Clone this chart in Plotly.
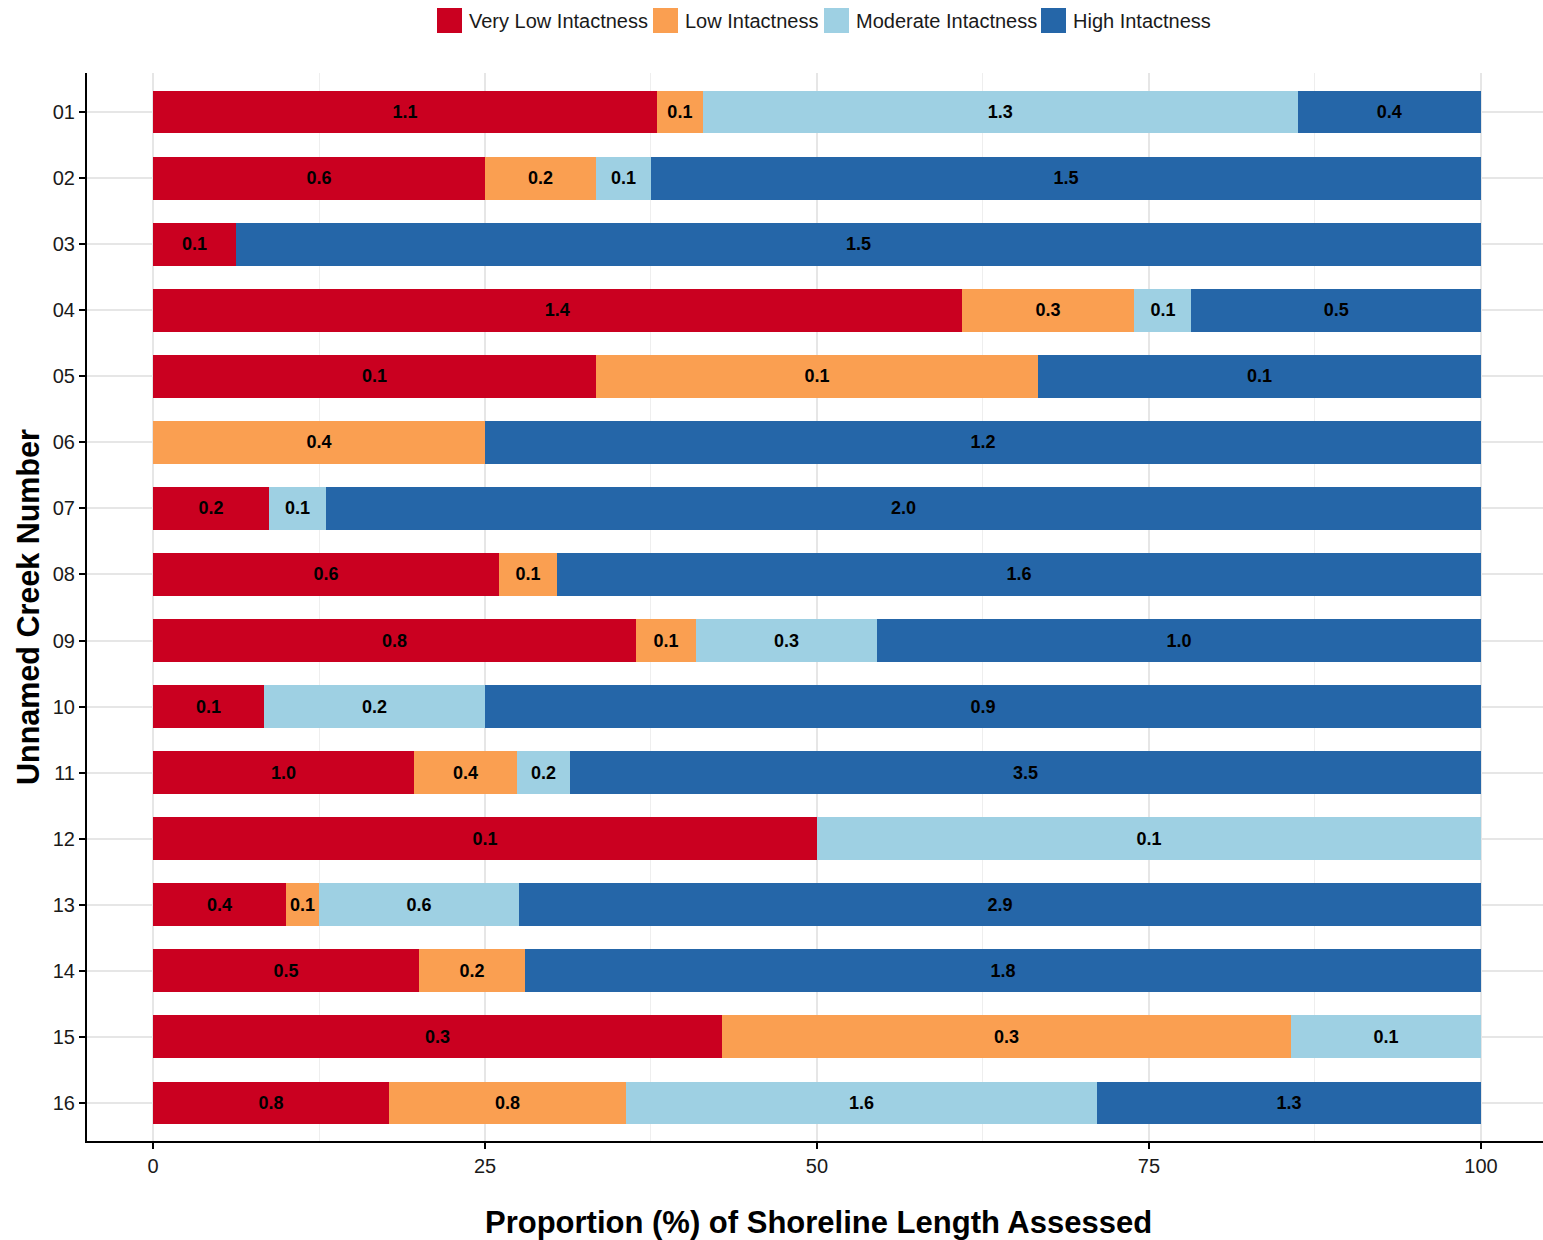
import plotly.graph_objects as go

# ---------------- data ----------------
creeks = ["01", "02", "03", "04", "05", "06", "07", "08",
          "09", "10", "11", "12", "13", "14", "15", "16"]

series_names = ["Very Low Intactness", "Low Intactness",
                "Moderate Intactness", "High Intactness"]

# proportion (%) of shoreline length for each class
very_low_pct = [37.95, 25.0, 6.25, 60.9, 33.36, None, 8.73, 26.05,
                36.37, 8.36, 19.65, 50.0, 10.02, 20.03, 42.85, 17.77]
low_pct = [3.45, 8.36, None, 13.0, 33.28, 25.0, None, 4.37,
           4.52, None, 7.76, None, 2.48, 7.98, 42.84, 17.85]
moderate_pct = [44.8, 4.14, None, 4.3, None, None, 4.3, None,
                13.63, 16.64, 3.99, 50.0, 15.06, None, 14.31, 35.46]
high_pct = [13.8, 62.5, 93.75, 21.8, 33.36, 75.0, 86.97, 69.58,
            45.48, 75.0, 68.6, None, 72.44, 71.99, None, 28.92]

# shoreline length (labels inside segments)
very_low_len = [1.1, 0.6, 0.1, 1.4, 0.1, None, 0.2, 0.6,
                0.8, 0.1, 1.0, 0.1, 0.4, 0.5, 0.3, 0.8]
low_len = [0.1, 0.2, None, 0.3, 0.1, 0.4, None, 0.1,
           0.1, None, 0.4, None, 0.1, 0.2, 0.3, 0.8]
moderate_len = [1.3, 0.1, None, 0.1, None, None, 0.1, None,
                0.3, 0.2, 0.2, 0.1, 0.6, None, 0.1, 1.6]
high_len = [0.4, 1.5, 1.5, 0.5, 0.1, 1.2, 2.0, 1.6,
            1.0, 0.9, 3.5, None, 2.9, 1.8, None, 1.3]

x_ticks = [0, 25, 50, 75, 100]

colors = ["#CA0020", "#FA9F51", "#9ED0E3", "#2566A8"]

# ---------------- figure ----------------
W, H = 1543, 1240
ML, MR, MT, MB = 87, 0, 73, 99
FONT = "Liberation Sans, Arial, sans-serif"

fig = go.Figure()
pcts = [very_low_pct, low_pct, moderate_pct, high_pct]
lens = [very_low_len, low_len, moderate_len, high_len]
for name, pct, ln, col in zip(series_names, pcts, lens, colors):
    txt = [("" if v is None else f"{v:.1f}") for v in ln]
    fig.add_trace(go.Bar(
        y=creeks, x=pct, name=name, orientation="h",
        marker=dict(color=col, line=dict(width=0)),
        width=0.65,
        text=txt, textposition="inside", insidetextanchor="middle",
        textangle=0,
        textfont=dict(family=FONT, size=18, color="black", weight="bold"),
        showlegend=False,
    ))

fig.update_layout(
    barmode="stack",
    width=W, height=H,
    margin=dict(l=ML, r=MR, t=MT, b=MB, pad=0),
    plot_bgcolor="white", paper_bgcolor="white",
    font=dict(family=FONT, size=20, color="#1a1a1a"),
    uniformtext=dict(minsize=18, mode="show"),
)

fig.update_xaxes(
    range=[-4.97, 104.67],
    tickmode="array", tickvals=x_ticks, ticktext=[str(t) for t in x_ticks],
    showgrid=True, gridcolor="#E6E6E6", gridwidth=2,
    minor=dict(dtick=12.5, tick0=0, showgrid=True, gridcolor="#EEEEEE", gridwidth=1),
    showline=True, linecolor="black", linewidth=2,
    ticks="outside", ticklen=6, tickwidth=2, tickcolor="black",
    tickfont=dict(size=20, color="#1a1a1a"),
    zeroline=False,
)
fig.update_yaxes(
    type="category", categoryorder="array", categoryarray=creeks,
    range=[15.575, -0.59],
    showgrid=True, gridcolor="#E6E6E6", gridwidth=2,
    showline=True, linecolor="black", linewidth=2,
    ticks="outside", ticklen=6, tickwidth=2, tickcolor="black",
    tickfont=dict(size=20, color="#1a1a1a"),
    zeroline=False,
)

pw = W - ML - MR
ph = H - MT - MB


def px2x(px):
    return (px - ML) / pw


def px2y(py):
    return (H - MB - py) / ph


# axis titles
fig.add_annotation(
    text="Proportion (%) of Shoreline Length Assessed",
    xref="paper", yref="paper", x=px2x(818), y=px2y(1222),
    xanchor="center", yanchor="middle", showarrow=False,
    font=dict(family=FONT, size=31, color="black", weight="bold"),
)
fig.add_annotation(
    text="Unnamed Creek Number",
    xref="paper", yref="paper", x=px2x(28), y=px2y(607),
    xanchor="center", yanchor="middle", showarrow=False, textangle=-90,
    font=dict(family=FONT, size=30.5, color="black", weight="bold"),
)

# legend (drawn manually at top)
legend_x = [437, 653, 824, 1041]
for name, col, lx in zip(series_names, colors, legend_x):
    fig.add_shape(
        type="rect", xref="paper", yref="paper",
        x0=px2x(lx), x1=px2x(lx + 25), y0=px2y(33), y1=px2y(8),
        fillcolor=col, line=dict(width=0),
    )
    fig.add_annotation(
        text=name, xref="paper", yref="paper",
        x=px2x(lx + 30), y=px2y(21), xanchor="left", yanchor="middle",
        showarrow=False, font=dict(family=FONT, size=20, color="#1a1a1a"),
    )

fig.write_html("out.html")
